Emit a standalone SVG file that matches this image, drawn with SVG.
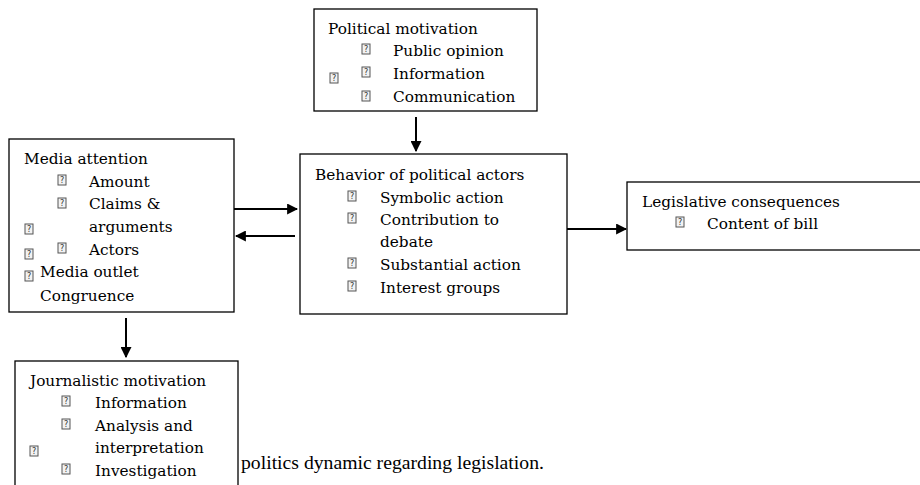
<svg xmlns="http://www.w3.org/2000/svg" xmlns:xlink="http://www.w3.org/1999/xlink" width="920" height="485" viewBox="0 0 920 485">
<style>
.box{fill:#fff;stroke:#000;stroke-width:1.3}
.t{font-family:"DejaVu Serif","Liberation Serif",serif;font-size:15.3px;fill:#000}
.cap{font-family:"Liberation Serif",serif;font-size:19.7px;fill:#000}
.q{fill:#f2f2f2;stroke:#555;stroke-width:1}
.qt{font-family:"DejaVu Sans",sans-serif;font-size:8px;fill:#333}
.c{stroke:#000;stroke-width:2;fill:none;marker-end:url(#ah)}
</style>
<defs>
<marker id="ah" viewBox="0 0 10 10" refX="9" refY="5" markerWidth="5.5" markerHeight="5.5" orient="auto" markerUnits="strokeWidth">
<path d="M0,0 L10,5 L0,10 z" fill="#000"/>
</marker>
<g id="q"><rect class="q" x="0" y="0" width="8" height="10"/><text class="qt" x="4" y="8" text-anchor="middle">?</text></g>
</defs>
<rect width="920" height="485" fill="#fff"/>

<g id="political">
<rect class="box" x="314" y="9" width="223" height="102"/>
<text class="t" x="328" y="34">Political motivation</text>
<use xlink:href="#q" x="362" y="44"/><text class="t" x="393" y="56">Public opinion</text>
<use xlink:href="#q" x="362" y="67"/><text class="t" x="393" y="79">Information</text>
<use xlink:href="#q" x="362" y="91"/><text class="t" x="393" y="102">Communication</text>
<use xlink:href="#q" x="330" y="73"/>
</g>

<g id="media">
<rect class="box" x="9" y="139" width="225" height="173"/>
<text class="t" x="24" y="164">Media attention</text>
<use xlink:href="#q" x="58" y="175"/><text class="t" x="89" y="187">Amount</text>
<use xlink:href="#q" x="58" y="198"/><text class="t" x="89" y="209">Claims &amp;</text>
<text class="t" x="89" y="232">arguments</text>
<use xlink:href="#q" x="58" y="243"/><text class="t" x="89" y="255">Actors</text>
<use xlink:href="#q" x="25" y="224"/>
<use xlink:href="#q" x="25" y="249"/>
<use xlink:href="#q" x="25" y="271"/>
<text class="t" x="40" y="277">Media outlet</text>
<text class="t" x="40" y="301">Congruence</text>
</g>

<g id="behavior">
<rect class="box" x="300" y="154" width="267" height="160"/>
<text class="t" x="315" y="180">Behavior of political actors</text>
<use xlink:href="#q" x="348" y="191"/><text class="t" x="380" y="203">Symbolic action</text>
<use xlink:href="#q" x="348" y="213"/><text class="t" x="380" y="225">Contribution to</text>
<text class="t" x="380" y="247">debate</text>
<use xlink:href="#q" x="348" y="258"/><text class="t" x="380" y="270">Substantial action</text>
<use xlink:href="#q" x="348" y="281"/><text class="t" x="380" y="293">Interest groups</text>
</g>

<g id="legislative">
<rect class="box" x="627" y="182" width="296" height="68"/>
<text class="t" x="642" y="207">Legislative consequences</text>
<use xlink:href="#q" x="676" y="217"/><text class="t" x="707" y="229">Content of bill</text>
</g>

<g id="journalistic">
<rect class="box" x="15" y="361" width="223" height="130"/>
<text class="t" x="30" y="386">Journalistic motivation</text>
<use xlink:href="#q" x="62" y="396"/><text class="t" x="95" y="408">Information</text>
<use xlink:href="#q" x="62" y="419"/><text class="t" x="95" y="431">Analysis and</text>
<text class="t" x="95" y="453">interpretation</text>
<use xlink:href="#q" x="62" y="464"/><text class="t" x="95" y="476">Investigation</text>
<use xlink:href="#q" x="30" y="446"/>
</g>

<text class="cap" x="241" y="469">politics dynamic regarding legislation.</text>

<g id="connectors">
<line class="c" x1="416" y1="117" x2="416" y2="151"/>
<line class="c" x1="234" y1="209" x2="297" y2="209"/>
<line class="c" x1="295" y1="236" x2="236" y2="236"/>
<line class="c" x1="567" y1="229" x2="626" y2="229"/>
<line class="c" x1="126" y1="318" x2="126" y2="357"/>
</g>
</svg>
